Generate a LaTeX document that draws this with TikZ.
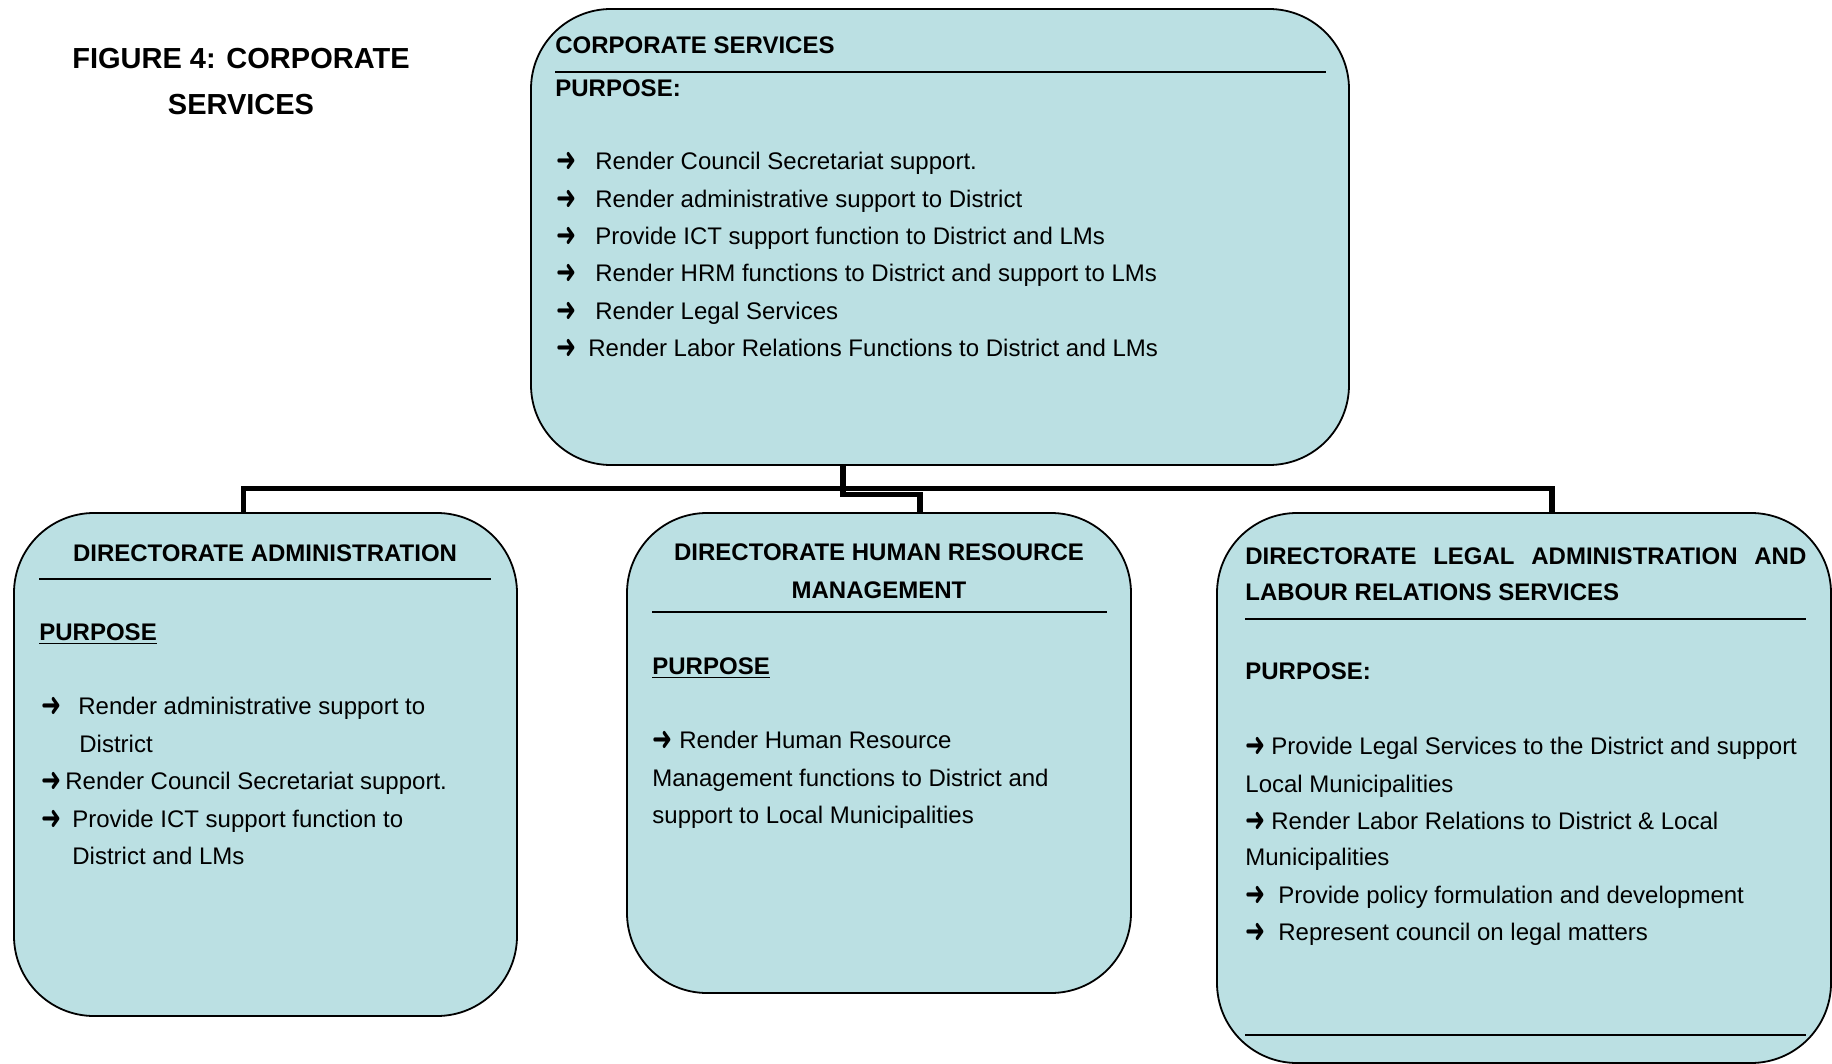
\documentclass[tikz,border=0pt]{standalone}
\usepackage{graphicx}
\usepackage{fontspec}
\setmainfont{Liberation Sans}
\newfontfamily\symfont{DejaVu Sans}
\definecolor{boxblue}{RGB}{187,224,227}
\newcommand{\arr}{\raisebox{-1pt}{\scalebox{1.0}[1.4]{\symfont\bfseries ➜}}}
\newcommand{\arrbox}[1]{\makebox[#1][l]{\arr}}
\tikzset{
  box/.style={draw, line width=0.9pt, fill=boxblue, rounded corners=40pt, inner sep=0pt},
  txt/.style={anchor=base west, inner sep=0pt, font=\fontsize{12}{18}\selectfont},
  hd/.style={txt, font=\fontsize{12}{18}\selectfont\bfseries},
  conn/.style={line width=2.6pt},
  rule/.style={line width=1pt}
}

\begin{document}
\begin{tikzpicture}[x=0.5pt, y=-0.5pt]
\useasboundingbox (0,0) rectangle (1832,1064);

% title
\node (title1) at (241,68.5) [anchor=base, inner sep=0pt, font=\fontsize{14.5}{20}\selectfont\bfseries] {FIGURE 4: CORPORATE};
\node (title2) at (241,114.5) [anchor=base, inner sep=0pt, font=\fontsize{14.5}{20}\selectfont\bfseries] {SERVICES};

% boxes
\node (corp) at (940,237) [box, minimum width=409pt, minimum height=228pt] {};
\node (adm) at (265.5,764.5) [box, minimum width=251.5pt, minimum height=251.5pt] {};
\node (hrm) at (879,753) [box, minimum width=252pt, minimum height=240pt] {};
\node (dls) at (1524,788) [box, minimum width=307pt, minimum height=275pt] {};

% connectors
\draw[conn] ([xshift=-48.5pt]corp.south) -- ++(0,24) coordinate (bus);
\draw[conn] ([xshift=-11pt]adm.north) -- ++(0,-24) -| ([xshift=14pt]dls.north);
\draw[conn] (bus) -- ++(0,4.5) -| ([xshift=20.5pt]hrm.north);

% corporate services
\node (cs-h) at (555,54) [hd] {CORPORATE SERVICES};
\draw[rule] (555,72) -- (1326,72);
\node (cs-p) at (555,96.5) [hd] {PURPOSE:};
\node (cs-1) at (556,170) [txt] {\arrbox{19.5pt}Render Council Secretariat support.};
\node (cs-2) at (556,208) [txt] {\arrbox{19.5pt}Render administrative support to District};
\node (cs-3) at (556,245) [txt] {\arrbox{19.5pt}Provide ICT support function to District and LMs};
\node (cs-4) at (556,282) [txt] {\arrbox{19.5pt}Render HRM functions to District and support to LMs};
\node (cs-5) at (556,320) [txt] {\arrbox{19.5pt}Render Legal Services};
\node (cs-6) at (556,357) [txt] {\arrbox{16pt}Render Labor Relations Functions to District and LMs};

% directorate administration
\node (adm-h) at (265,561) [hd, anchor=base] {DIRECTORATE ADMINISTRATION};
\draw[rule] (39,579) -- (491,579);
\node (adm-p) at (39,640) [hd] {\underline{PURPOSE}};
\node (adm-1) at (41,714) [txt] {\arrbox{18.5pt}Render administrative support to};
\node (adm-1b) at (79,752) [txt] {District};
\node (adm-2) at (41,789) [txt] {\arrbox{12pt}Render Council Secretariat support.};
\node (adm-3) at (41,827) [txt] {\arrbox{15.5pt}Provide ICT support function to};
\node (adm-3b) at (72,864) [txt] {District and LMs};

% directorate human resource management
\node (hrm-h1) at (879,560) [hd, anchor=base] {DIRECTORATE HUMAN RESOURCE};
\node (hrm-h2) at (879,598) [hd, anchor=base] {MANAGEMENT};
\draw[rule] (652,612) -- (1107,612);
\node (hrm-p) at (652,674) [hd] {\underline{PURPOSE}};
\node (hrm-1) at (652,748) [txt] {\arrbox{13.5pt}Render Human Resource};
\node (hrm-1b) at (652,786) [txt] {Management functions to District and};
\node (hrm-1c) at (652,823) [txt] {support to Local Municipalities};

% directorate legal administration and labour relations
\node (dls-h1) at (1245,564) [hd] {\makebox[280.5pt][s]{DIRECTORATE LEGAL ADMINISTRATION AND}};
\node (dls-h2) at (1245,600) [hd] {LABOUR RELATIONS SERVICES};
\draw[rule] (1245,619) -- (1806,619);
\node (dls-p) at (1245,679) [hd] {PURPOSE:};
\node (dls-1) at (1245,754) [txt] {\arrbox{13pt}Provide Legal Services to the District and support};
\node (dls-1b) at (1245,792) [txt] {Local Municipalities};
\node (dls-2) at (1245,829) [txt] {\arrbox{13pt}Render Labor Relations to District \& Local};
\node (dls-2b) at (1245,865) [txt] {Municipalities};
\node (dls-3) at (1245,903) [txt] {\arrbox{16.5pt}Provide policy formulation and development};
\node (dls-4) at (1245,940) [txt] {\arrbox{16.5pt}Represent council on legal matters};
\draw[rule] (1245,1035) -- (1806,1035);
\end{tikzpicture}
\end{document}
